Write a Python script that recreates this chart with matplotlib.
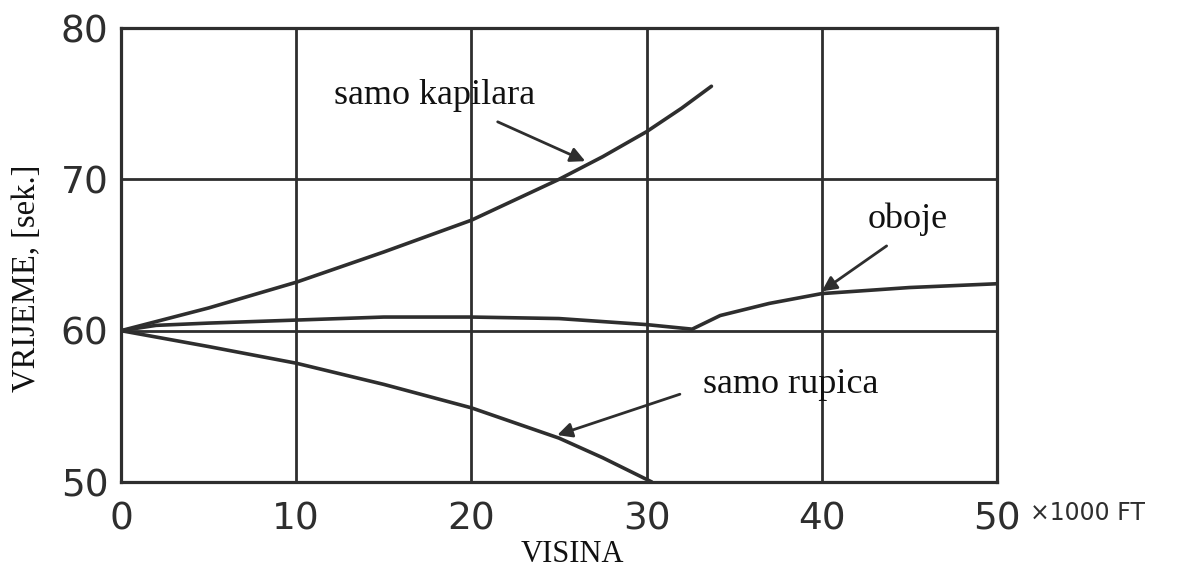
import numpy as np
import matplotlib
matplotlib.use("Agg")
import matplotlib.pyplot as plt

# values (x in thousands of feet, y in seconds)
kap_x = [0, 5, 10, 15, 20, 25, 27.5, 30, 32, 33.7]
kap_y = [60, 61.5, 63.2, 65.2, 67.3, 70.0, 71.5, 73.15, 74.7, 76.15]

rup_x = [0, 5, 10, 15, 20, 25, 27.5, 30.3]
rup_y = [60, 58.95, 57.85, 56.45, 54.9, 52.9, 51.6, 50.0]

obo_x = [0, 2, 5, 10, 15, 20, 25, 30, 32.6, 34.2, 37, 40, 45, 50]
obo_y = [60, 60.35, 60.5, 60.7, 60.9, 60.9, 60.8, 60.4, 60.1, 61.0, 61.8, 62.45, 62.85, 63.1]

x_ticks = [0, 10, 20, 30, 40, 50]
y_ticks = [50, 60, 70, 80]

ink = "#2e2e2e"
serif = "Liberation Serif"

fig = plt.figure(figsize=(11.81, 5.69), dpi=100)
ax = fig.add_axes([121/1181, 1-482/569, (997-121)/1181, (482-28)/569])

ax.set_xlim(0, 50)
ax.set_ylim(50, 80)
ax.set_xticks(x_ticks)
ax.set_yticks(y_ticks)
ax.tick_params(length=0, labelsize=27, colors=ink)
ax.tick_params(axis="x", pad=14)
ax.tick_params(axis="y", pad=9)
for s in ax.spines.values():
    s.set_linewidth(2.3)
    s.set_color(ink)

# grid
for gx in [10, 20, 30, 40]:
    ax.axvline(gx, color=ink, lw=2.0, zorder=1)
for gy in [60, 70]:
    ax.axhline(gy, color=ink, lw=2.0, zorder=1)

ax.plot(kap_x, kap_y, color=ink, lw=2.6, solid_capstyle="round", solid_joinstyle="round", zorder=3)
ax.plot(rup_x, rup_y, color=ink, lw=2.6, solid_capstyle="round", solid_joinstyle="round", zorder=3)
ax.plot(obo_x, obo_y, color=ink, lw=2.6, solid_capstyle="round", solid_joinstyle="round", zorder=3)

arrow = dict(arrowstyle="-|>", color=ink, lw=2.0, mutation_scale=22, shrinkA=0, shrinkB=0)
ax.annotate("", xy=(26.5, 71.2), xytext=(21.5, 73.8), arrowprops=arrow)
ax.annotate("", xy=(40.0, 62.6), xytext=(43.7, 65.6), arrowprops=arrow)
ax.annotate("", xy=(24.9, 53.1), xytext=(31.9, 55.8), arrowprops=arrow)

ax.text(17.9, 75.0, "samo kapilara", family=serif, fontsize=26, color="#111111",
        ha="center", va="baseline")
ax.text(38.2, 55.9, "samo rupica", family=serif, fontsize=26, color="#111111",
        ha="center", va="baseline")
ax.text(44.9, 66.8, "oboje", family=serif, fontsize=26, color="#111111",
        ha="center", va="baseline")

fig.text(572/1181, 1-555/569, "VISINA", family=serif, fontsize=22, color="#111111",
         ha="center", va="center")
fig.text(27/1181, 1-278/569, "VRIJEME, [sek.]", family=serif, fontsize=23.5, color="#111111",
         ha="center", va="center", rotation=90)
fig.text(1030/1181, 1-513/569, "×1000 FT", fontsize=17, color=ink,
         ha="left", va="center")

fig.savefig("out.png", dpi=100)
